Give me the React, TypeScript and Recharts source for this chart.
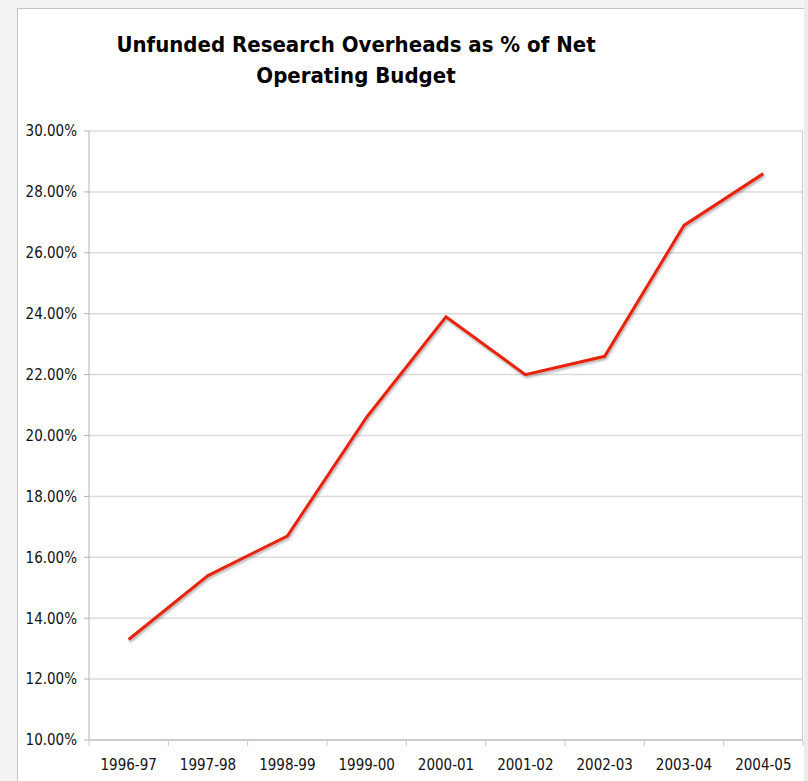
import React from 'react';
import { LineChart, Line, XAxis, YAxis, CartesianGrid } from 'recharts';

const years = ['1996-97', '1997-98', '1998-99', '1999-00', '2000-01', '2001-02', '2002-03', '2003-04', '2004-05'];
const overheadPct = [13.3, 15.4, 16.7, 20.6, 23.9, 22.0, 22.6, 26.9, 28.6];
const yTicks = [10, 12, 14, 16, 18, 20, 22, 24, 26, 28, 30];

const data = years.map((year, i) => ({ year, value: overheadPct[i] }));

const W = 808;
const H = 781;
const M = { top: 131, right: 5, left: 0, bottom: 11 };
const Y_W = 89;
const X_H = 30;
const FONT = '"DejaVu Sans Condensed", "DejaVu Sans", sans-serif';
const band = (W - M.left - M.right - Y_W) / years.length;

const XTick = (props: any) => {
  const { x, y, payload, index } = props;
  const top = y - 8;
  return (
    <g>
      <line x1={x - band / 2} x2={x - band / 2} y1={top} y2={top + 6} stroke="#c8c8c8" />
      {index === years.length - 1 && (
        <line x1={x + band / 2} x2={x + band / 2} y1={top} y2={top + 6} stroke="#c8c8c8" />
      )}
      <text x={x} y={top + 30} textAnchor="middle" fill="#111" fontSize={15} fontFamily={FONT}>
        {payload.value}
      </text>
    </g>
  );
};

export default function App() {
  return (
    <div style={{ position: 'absolute', left: 0, top: 0, width: W, height: H, background: '#f3f3f3' }}>
      <div
        style={{
          position: 'absolute', left: 17, top: 8, width: W - 17, height: H - 8,
          background: '#fff', borderLeft: '1px solid #c4c4c4', borderTop: '1px solid #c4c4c4',
        }}
      />
      <div
        style={{
          position: 'absolute', left: 96, top: 29, width: 520, textAlign: 'center',
          fontFamily: FONT, fontWeight: 'bold', fontSize: 22, lineHeight: '31px', color: '#000',
        }}
      >
        Unfunded Research Overheads as % of Net
        <br />
        Operating Budget
      </div>
      <div style={{ position: 'absolute', left: 0, top: 0 }}>
        <LineChart width={W} height={H} data={data} margin={M}>
          <defs>
            <filter id="shadow" x="-10%" y="-10%" width="120%" height="130%">
              <feDropShadow dx="1" dy="2" stdDeviation="0.8" floodColor="#000" floodOpacity="0.3" />
            </filter>
          </defs>
          <CartesianGrid vertical={false} stroke="#dcdcdc" strokeWidth={1.5} />
          <XAxis
            dataKey="year"
            scale="band"
            height={X_H}
            stroke="#b5b5b5"
            tickLine={false}
            tick={<XTick />}
            interval={0}
          />
          <YAxis
            domain={[10, 30]}
            ticks={yTicks}
            width={Y_W}
            stroke="#b5b5b5"
            tickSize={5}
            tickMargin={7}
            tickFormatter={(v: number) => v.toFixed(2) + '%'}
            tick={{ fill: '#111', fontSize: 15, fontFamily: FONT }}
            interval={0}
          />
          <Line
            type="linear"
            dataKey="value"
            stroke="#e8230a"
            strokeWidth={3}
            dot={false}
            filter="url(#shadow)"
            isAnimationActive={false}
          />
        </LineChart>
      </div>
      <div
        style={{
          position: 'absolute', left: W - M.right - 1, top: M.top, width: 1, height: H - M.top - M.bottom - X_H,
          background: '#c8c8c8',
        }}
      />
      <div
        style={{
          position: 'absolute', left: W - 4, top: 0, width: 4, height: H, background: '#ececec',
        }}
      />
    </div>
  );
}
